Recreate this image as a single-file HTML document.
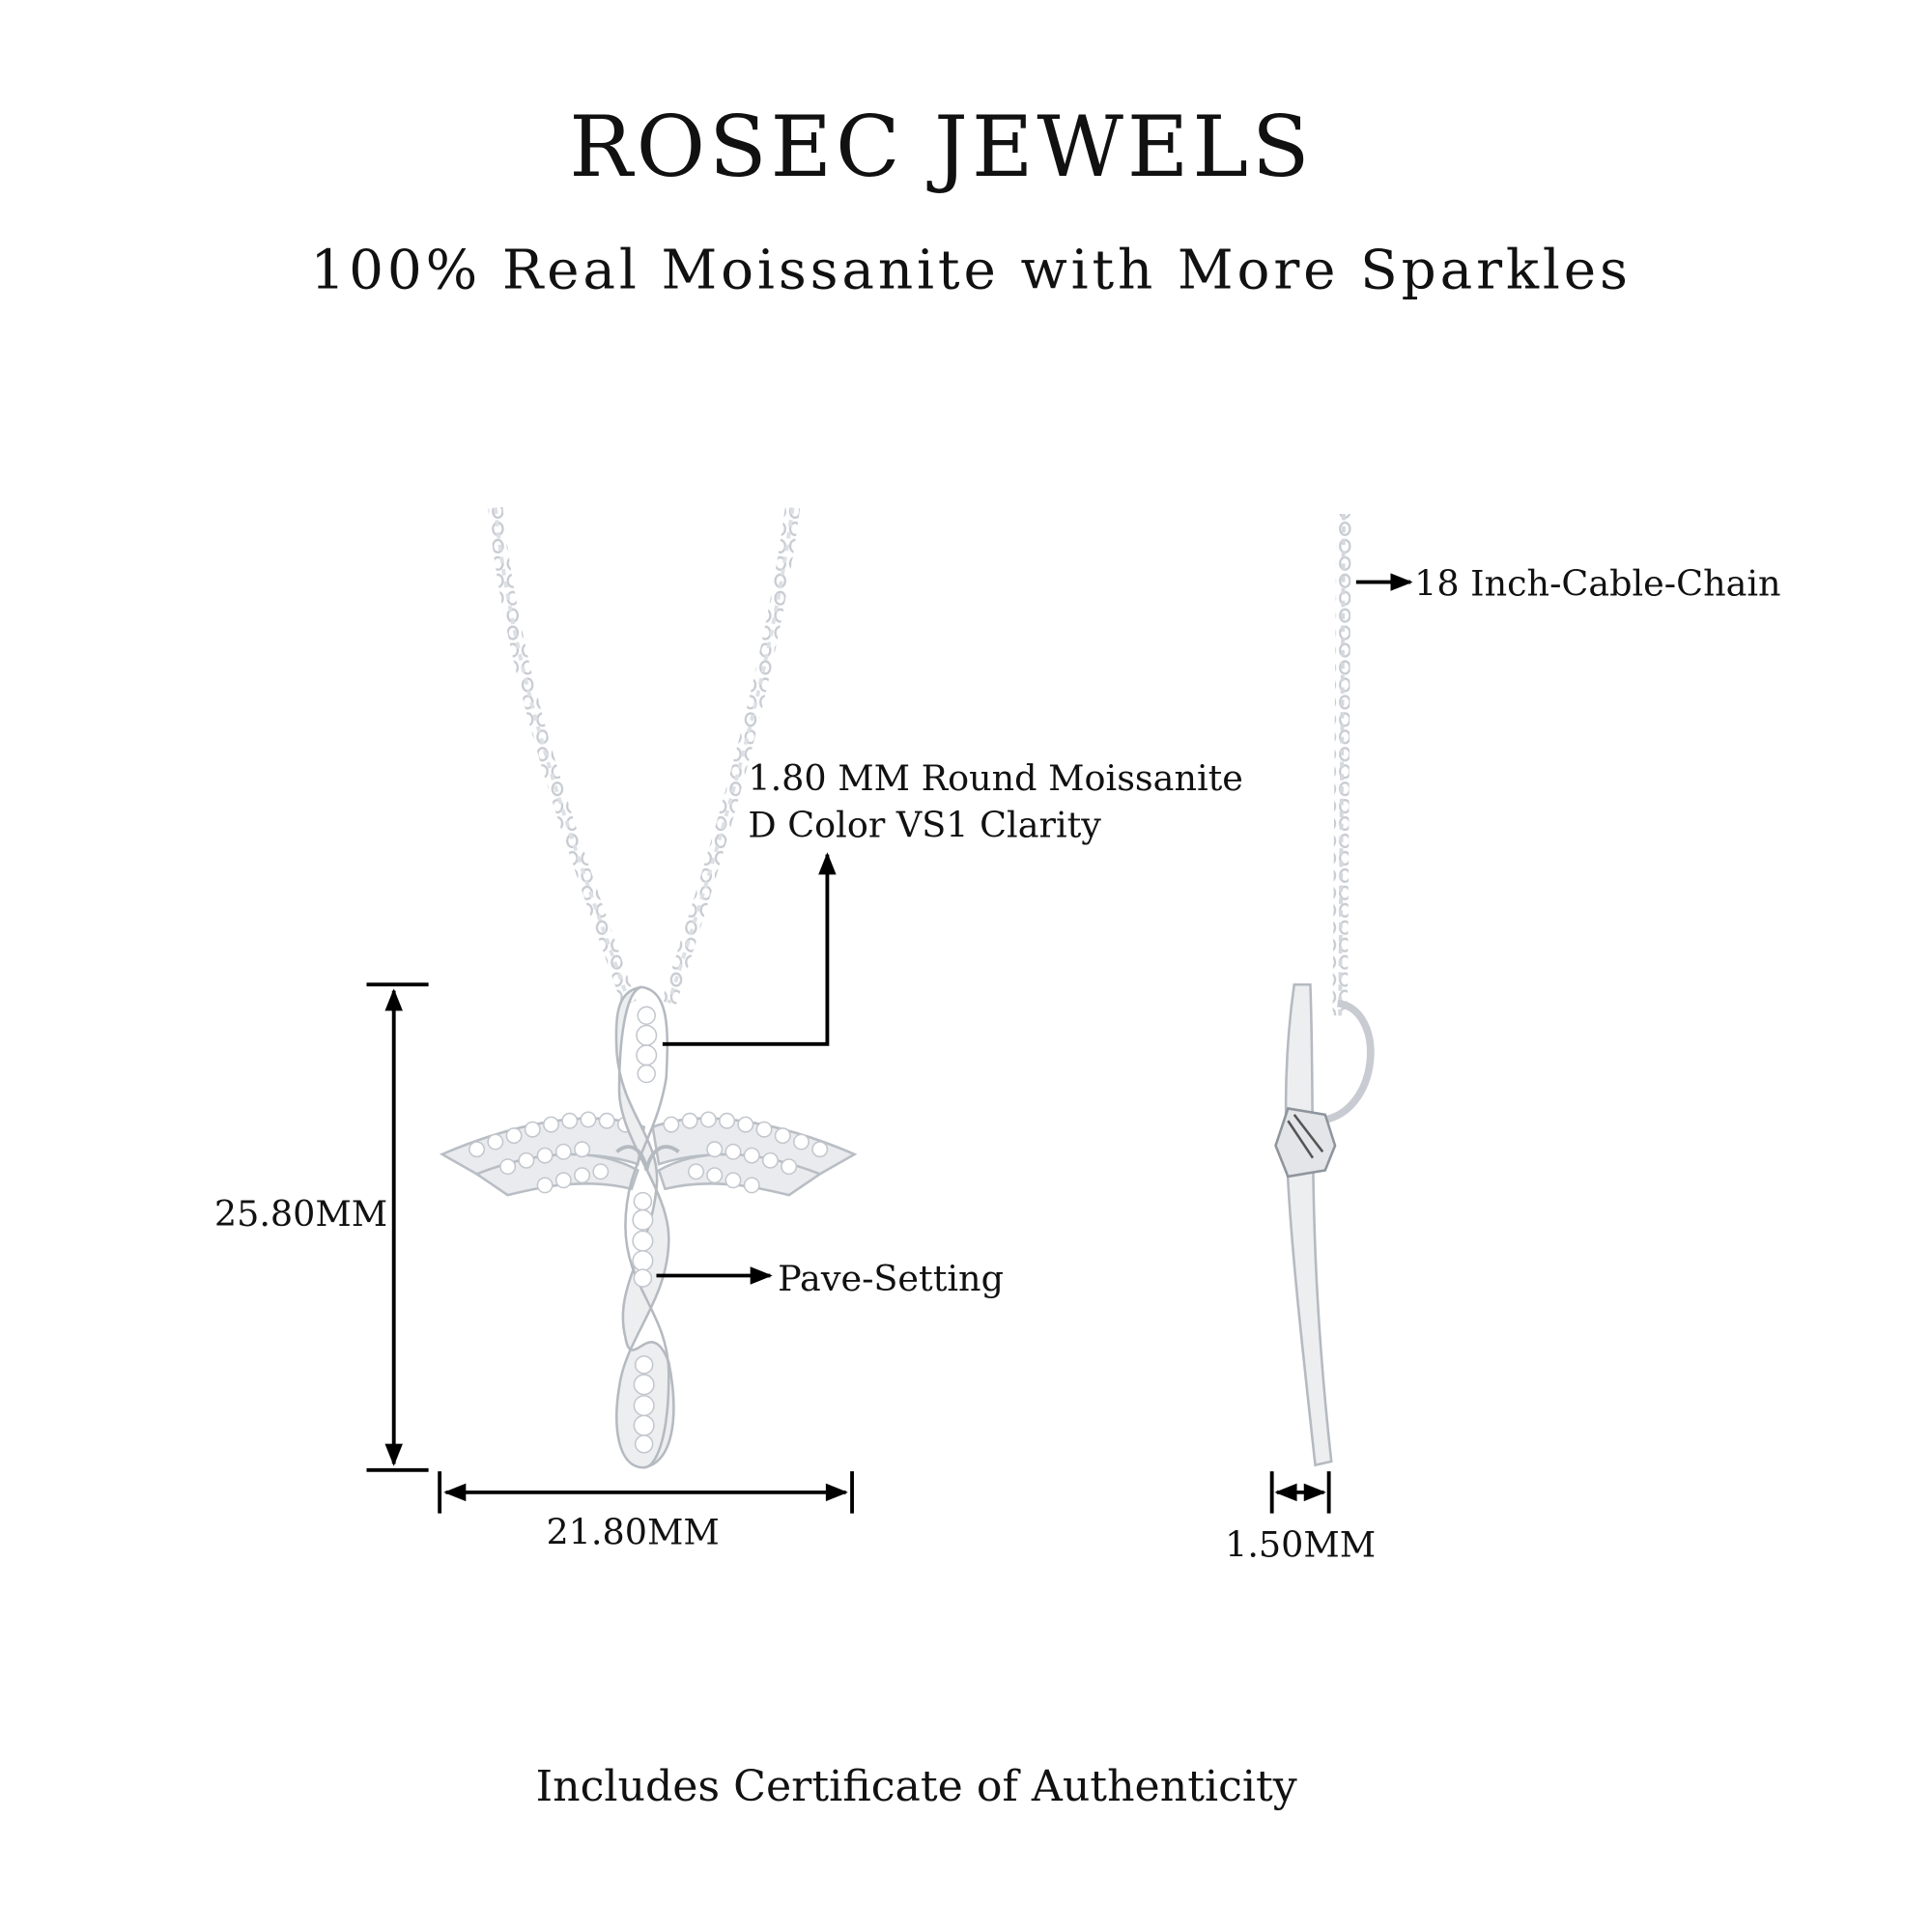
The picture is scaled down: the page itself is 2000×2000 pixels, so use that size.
<!DOCTYPE html>
<html><head><meta charset="utf-8"><style>
html,body{margin:0;padding:0;background:#fff;}
svg{display:block;}
text{font-family:"DejaVu Serif","Liberation Serif",serif;fill:#111;}
</style></head><body>
<svg width="2000" height="2000" viewBox="0 0 1560 1560" xmlns="http://www.w3.org/2000/svg">
<defs>
<marker id="ah" viewBox="0 0 10 10" refX="9" refY="5" markerWidth="7" markerHeight="6" orient="auto-start-reverse" markerUnits="strokeWidth"><path d="M0,1 L10,5 L0,9 z" fill="#000"/></marker>
<pattern id="chain" width="12" height="14" patternUnits="userSpaceOnUse"><ellipse cx="6" cy="7" rx="4" ry="5" fill="none" stroke="#c8ccd2" stroke-width="1.8"/></pattern>
</defs>
<text x="760" y="142" font-size="68" text-anchor="middle" letter-spacing="3">ROSEC JEWELS</text>
<text x="784" y="233" font-size="44" text-anchor="middle" letter-spacing="3">100% Real Moissanite with More Sparkles</text>

<!-- chains -->
<path d="M400,410 C415,560 470,700 508,810" fill="none" stroke="url(#chain)" stroke-width="12"/>
<path d="M640,410 C620,560 575,700 540,810" fill="none" stroke="url(#chain)" stroke-width="12"/>
<path d="M400,410 C415,560 470,700 508,810" fill="none" stroke="#dde0e4" stroke-width="3" stroke-dasharray="5 5"/>
<path d="M640,410 C620,560 575,700 540,810" fill="none" stroke="#dde0e4" stroke-width="3" stroke-dasharray="5 5"/>
<path d="M1085,415 L1082,820" fill="none" stroke="url(#chain)" stroke-width="12"/>
<path d="M1085,415 L1082,820" fill="none" stroke="#d5d8dc" stroke-width="3" stroke-dasharray="5 5"/>

<!-- wings -->
<g fill="#e9ebee" stroke="#b9bec5" stroke-width="2">
<path d="M357,932 C420,905 480,895 520,910 L515,940 C470,925 420,935 385,948 z"/>
<path d="M385,948 C430,930 480,925 515,945 L510,960 C470,950 430,960 410,965 z"/>
<path d="M690,932 C627,905 567,895 527,910 L532,940 C577,925 627,935 662,948 z"/>
<path d="M662,948 C617,930 567,925 532,945 L537,960 C577,950 617,960 637,965 z"/>
</g>
<g fill="#fff" stroke="#c3c7cd" stroke-width="1.2">
<circle cx="385" cy="928" r="6"/><circle cx="400" cy="922" r="6"/><circle cx="415" cy="917" r="6"/><circle cx="430" cy="912" r="6"/><circle cx="445" cy="908" r="6"/><circle cx="460" cy="905" r="6"/><circle cx="475" cy="904" r="6"/><circle cx="490" cy="905" r="6"/><circle cx="505" cy="908" r="6"/>
<circle cx="410" cy="942" r="6"/><circle cx="425" cy="937" r="6"/><circle cx="440" cy="933" r="6"/><circle cx="455" cy="930" r="6"/><circle cx="470" cy="928" r="6"/>
<circle cx="440" cy="957" r="6"/><circle cx="455" cy="953" r="6"/><circle cx="470" cy="949" r="6"/><circle cx="485" cy="946" r="6"/>
<circle cx="662" cy="928" r="6"/><circle cx="647" cy="922" r="6"/><circle cx="632" cy="917" r="6"/><circle cx="617" cy="912" r="6"/><circle cx="602" cy="908" r="6"/><circle cx="587" cy="905" r="6"/><circle cx="572" cy="904" r="6"/><circle cx="557" cy="905" r="6"/><circle cx="542" cy="908" r="6"/>
<circle cx="637" cy="942" r="6"/><circle cx="622" cy="937" r="6"/><circle cx="607" cy="933" r="6"/><circle cx="592" cy="930" r="6"/><circle cx="577" cy="928" r="6"/>
<circle cx="607" cy="957" r="6"/><circle cx="592" cy="953" r="6"/><circle cx="577" cy="949" r="6"/><circle cx="562" cy="946" r="6"/>
</g>
<!-- cross body -->
<path d="M518,797 C500,800 496,815 498,850 C502,900 535,920 530,960 C525,1010 495,1040 505,1080 C510,1110 525,1060 540,1100 C548,1140 545,1180 520,1185 C498,1185 495,1150 500,1120 C505,1080 540,1050 540,1000 C540,960 500,920 500,880 C500,840 505,800 518,797 z" fill="#eceef0" stroke="#b5bac1" stroke-width="2"/>
<path d="M518,797 C540,800 540,830 538,870 C530,920 505,940 505,990 C505,1040 540,1060 540,1110 C540,1160 530,1185 520,1185" fill="none" stroke="#b5bac1" stroke-width="2"/>
<g fill="#fff" stroke="#c3c7cd" stroke-width="1.2">
<circle cx="522" cy="820" r="7"/><circle cx="522" cy="836" r="8"/><circle cx="522" cy="852" r="8"/><circle cx="522" cy="867" r="7"/>
<circle cx="519" cy="970" r="7"/><circle cx="519" cy="985" r="8"/><circle cx="519" cy="1002" r="8"/><circle cx="519" cy="1018" r="8"/><circle cx="519" cy="1032" r="7"/>
<circle cx="520" cy="1102" r="7"/><circle cx="520" cy="1118" r="8"/><circle cx="520" cy="1135" r="8"/><circle cx="520" cy="1151" r="8"/><circle cx="520" cy="1166" r="7"/>
</g>
<path d="M498,930 C510,920 520,930 522,945 C525,930 535,920 548,930" fill="none" stroke="#b5bac1" stroke-width="3"/>

<!-- side view -->
<path d="M1045,795 L1058,795 C1062,900 1055,1000 1075,1180 L1062,1183 C1042,1000 1030,900 1045,795 z" fill="#eceef0" stroke="#b5bac1" stroke-width="2"/>
<path d="M1080,810 C1120,815 1115,900 1065,905" fill="none" stroke="#c8ccd2" stroke-width="6"/>
<path d="M1040,895 L1070,900 L1078,925 L1070,945 L1040,950 L1030,925 z" fill="#e3e5e8" stroke="#8f959d" stroke-width="2"/>
<path d="M1040,905 L1060,935 M1045,900 L1068,930" stroke="#555" stroke-width="2"/>

<!-- dimension lines -->
<g stroke="#000" stroke-width="3" fill="none">
<line x1="296" y1="795" x2="346" y2="795"/>
<line x1="296" y1="1187" x2="346" y2="1187"/>
<line x1="318" y1="800" x2="318" y2="1182" marker-start="url(#ah)" marker-end="url(#ah)"/>
<line x1="355" y1="1188" x2="355" y2="1222"/>
<line x1="688" y1="1188" x2="688" y2="1222"/>
<line x1="360" y1="1205" x2="683" y2="1205" marker-start="url(#ah)" marker-end="url(#ah)"/>
<polyline points="535,843 668,843 668,690" marker-end="url(#ah)"/>
<line x1="530" y1="1030" x2="622" y2="1030" marker-end="url(#ah)"/>
<line x1="1095" y1="470" x2="1139" y2="470" marker-end="url(#ah)"/>
<line x1="1027" y1="1188" x2="1027" y2="1222"/>
<line x1="1073" y1="1188" x2="1073" y2="1222"/>
<line x1="1031" y1="1205" x2="1069" y2="1205" marker-start="url(#ah)" marker-end="url(#ah)"/>
</g>
<g font-size="28.5">
<text x="243" y="990" text-anchor="middle">25.80MM</text>
<text x="511" y="1247" text-anchor="middle">21.80MM</text>
<text x="1050" y="1257" text-anchor="middle">1.50MM</text>
<text x="604" y="638">1.80 MM Round Moissanite</text>
<text x="604" y="676">D Color VS1 Clarity</text>
<text x="628" y="1042">Pave-Setting</text>
<text x="1142" y="481">18 Inch-Cable-Chain</text>
<text x="740" y="1454" font-size="34.5" text-anchor="middle">Includes Certificate of Authenticity</text>
</g>
</svg>
</body></html>
